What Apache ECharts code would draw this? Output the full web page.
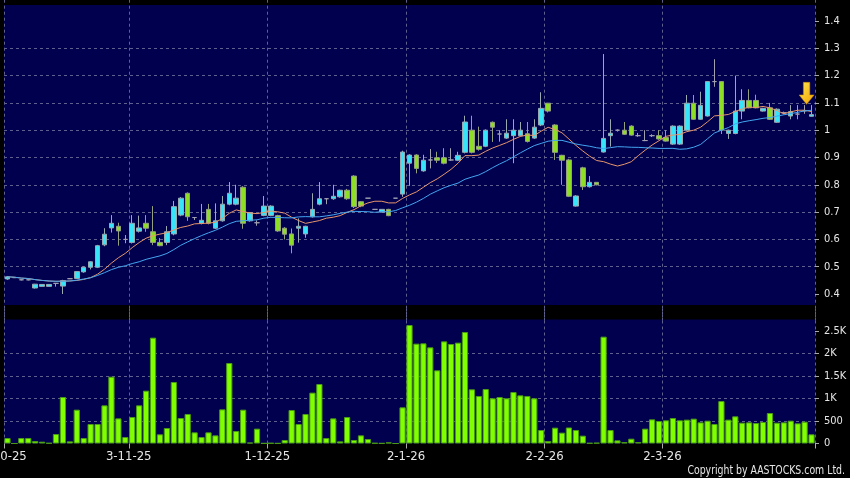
<!DOCTYPE html>
<html><head><meta charset="utf-8">
<script src="https://cdn.jsdelivr.net/npm/echarts@6/dist/echarts.min.js"></script>
<style>html,body{margin:0;padding:0;background:#000;}#c{width:850px;height:478px;}</style>
</head><body><div id="c"></div>
<script>
// ---- data ----
const categories = [
 '2-10-25','3-10-25','6-10-25','8-10-25','9-10-25','10-10-25','13-10-25','14-10-25','15-10-25','16-10-25','17-10-25','20-10-25','21-10-25','22-10-25','23-10-25','24-10-25','27-10-25','28-10-25',
 '3-11-25','4-11-25','5-11-25','6-11-25','7-11-25','10-11-25','11-11-25','12-11-25','13-11-25','14-11-25','17-11-25','18-11-25','19-11-25','20-11-25','21-11-25','24-11-25','25-11-25','26-11-25','27-11-25','28-11-25',
 '1-12-25','2-12-25','3-12-25','4-12-25','5-12-25','8-12-25','9-12-25','10-12-25','11-12-25','12-12-25','15-12-25','16-12-25','17-12-25','18-12-25','19-12-25','22-12-25','23-12-25','24-12-25','29-12-25','30-12-25',
 '2-1-26','5-1-26','6-1-26','7-1-26','8-1-26','9-1-26','12-1-26','13-1-26','14-1-26','15-1-26','16-1-26','19-1-26','20-1-26','21-1-26','22-1-26','23-1-26','26-1-26','27-1-26','28-1-26','29-1-26',
 '2-2-26','3-2-26','4-2-26','5-2-26','6-2-26','9-2-26','10-2-26','11-2-26','12-2-26','13-2-26','16-2-26','20-2-26','23-2-26','24-2-26','25-2-26','26-2-26','27-2-26',
 '2-3-26','3-3-26','4-3-26','5-3-26','6-3-26','9-3-26','10-3-26','11-3-26','12-3-26','13-3-26','16-3-26','17-3-26','18-3-26','19-3-26','20-3-26','23-3-26','24-3-26','25-3-26','26-3-26','27-3-26','30-3-26','31-3-26'
];
const opens = [
 .455,.46,.452,.452,.422,.428,.428,.439,.429,.456,
 .457,.481,.498,.498,.58,.642,.648,.60,.589,.630,
 .659,.628,.589,.589,.62,.689,.769,.68,.659,.71,
 .641,.668,.729,.729,.791,.668,.661,.688,.688,.687,
 .641,.62,.641,.62,.683,.729,.749,.749,.756,.78,
 .832,.738,.751,.71,.70,.71,.751,.766,.879,.909,
 .851,.891,.899,.899,.891,.89,.919,1.0,.941,.941,
 1.029,.986,.971,.98,.98,.987,.971,1.019,1.099,1.019,
 .908,.891,.722,.862,.793,.809,.92,.98,1.0,1.0,
 1.015,.98,.962,.98,.98,.973,.949,.949,1.0,1.099,
 1.04,1.052,1.178,1.178,.988,.988,1.07,1.109,1.109,1.07,
 1.082,1.029,1.064,1.052,1.059,1.071,1.051
];
const closes = [
 .463,.46,.452,.452,.436,.435,.435,.439,.449,.456,
 .482,.498,.518,.577,.619,.659,.631,.60,.659,.642,
 .641,.589,.577,.628,.72,.751,.683,.68,.67,.659,
 .668,.729,.769,.751,.659,.698,.661,.722,.722,.631,
 .619,.579,.648,.648,.71,.749,.749,.758,.78,.749,
 .72,.722,.751,.71,.71,.687,.751,.92,.909,.86,
 .89,.891,.89,.879,.891,.908,1.03,.919,.93,1.0,
 1.011,.986,.989,1.0,1.0,.959,1.011,1.08,1.07,.919,
 .89,.758,.759,.793,.809,.80,.97,.989,1.0,.985,
 .982,.98,.962,.98,.968,.96,1.015,1.015,1.099,1.04,
 1.091,1.178,1.178,1.0,1.0,1.07,1.109,1.082,1.082,1.08,
 1.04,1.077,1.064,1.068,1.059,1.071,1.057
];
const lows = [
 .452,.46,.45,.45,.42,.428,.428,.427,.40,.455,
 .455,.478,.49,.495,.575,.625,.577,.586,.585,.625,
 .628,.579,.575,.579,.615,.685,.668,.671,.655,.655,
 .638,.665,.725,.725,.639,.665,.65,.685,.685,.628,
 .60,.549,.588,.606,.68,.725,.729,.745,.753,.745,
 .715,.718,.751,.71,.70,.685,.751,.756,.796,.842,
 .848,.86,.88,.875,.888,.887,.915,.915,.925,.938,
 .957,.958,.968,.879,.977,.955,.968,1.015,1.065,.891,
 .80,.755,.72,.781,.79,.798,.918,.94,.995,.983,
 .98,.976,.96,.975,.965,.958,.946,.946,.998,1.038,
 1.038,1.05,1.159,.986,.968,.985,1.04,1.08,1.08,1.068,
 1.038,1.027,1.058,1.04,1.04,1.06,1.05
];
const highs = [
 .466,.46,.454,.454,.437,.435,.435,.439,.452,.457,
 .484,.50,.52,.58,.641,.689,.661,.616,.689,.687,
 .689,.722,.605,.649,.741,.755,.772,.682,.73,.73,
 .732,.759,.81,.80,.795,.70,.67,.759,.725,.69,
 .645,.64,.677,.65,.769,.81,.75,.80,.782,.785,
 .835,.74,.751,.71,.71,.712,.751,.925,.912,.912,
 .91,.931,.921,.934,.934,.921,1.053,1.053,1.013,1.003,
 1.032,1.0,1.04,1.04,1.03,1.03,1.04,1.139,1.10,1.022,
 .91,.895,.762,.866,.832,.81,1.279,1.04,1.003,1.03,
 1.018,.99,1.0,.985,1.0,1.0,1.018,1.018,1.129,1.129,
 1.141,1.18,1.26,1.18,1.002,1.2,1.15,1.15,1.13,1.082,
 1.10,1.08,1.068,1.092,1.092,1.092,1.092
];
const volumes = [
 122,0,122,122,55,40,10,211,1033,48,
 752,122,433,433,848,1485,559,144,589,848,
 1174,2352,204,344,1367,567,656,248,144,248,
 181,759,1789,278,752,20,330,5,10,5,
 78,744,433,656,1130,1322,122,559,48,589,
 78,181,100,10,5,25,0,804,2633,2219,
 2226,2137,1626,2270,2211,2241,2478,1204,1056,1211,
 1004,1033,1004,1144,1070,1056,1004,300,55,352,
 241,356,300,174,10,15,2374,300,70,30,
 107,30,330,537,500,515,567,515,530,552,
 470,507,433,944,530,604,463,470,455,478,
 678,463,470,507,448,485,204
];
const priceTicks = [0.4,0.5,0.6,0.7,0.8,0.9,1.0,1.1,1.2,1.3,1.4];
const volumeTicks = [0,500,1000,1500,2000,2500];
const maShort = 10, maLong = 20;
const arrowAt = {index: 115, price: 1.135};

// ---- build ----
const FONT = '"DejaVu Sans Condensed", "DejaVu Sans", sans-serif';
const monthOf = s => s.split('-')[1];
const isMonthStart = i => i === 0 || monthOf(categories[i]) !== monthOf(categories[i - 1]);
const candleData = categories.map((_, i) => [opens[i], closes[i], lows[i], highs[i]]);
function movingAverage(n) {
  return closes.map((_, i) => {
    const s = Math.max(0, i - n + 1);
    let sum = 0;
    for (let k = s; k <= i; k++) sum += closes[k];
    return +(sum / (i - s + 1)).toFixed(4);
  });
}
const gridLine = {color: '#60608f', width: 1, type: [3, 3]};
const labelStyle = {color: '#e6e6e6', fontFamily: FONT};

const chart = echarts.init(document.getElementById('c'));
chart.setOption({
  backgroundColor: '#000',
  animation: false,
  graphic: [
    {type: 'rect', z: -5, silent: true, shape: {x: 4, y: 5, width: 811, height: 300}, style: {fill: '#00004f'}},
    {type: 'rect', z: -5, silent: true, shape: {x: 4, y: 319.5, width: 811, height: 124}, style: {fill: '#00004f'}},
    {type: 'text', x: 845, y: 471, scaleX: 0.78, silent: true,
     style: {text: 'Copyright by AASTOCKS.com Ltd.', fill: '#e6e6e6', font: '12px "DejaVu Sans"', align: 'right', verticalAlign: 'middle'}}
  ],
  grid: [
    {left: 4, right: 35, top: -6.3, bottom: 156.7, containLabel: false, outerBoundsMode: 'none'},
    {left: 4, right: 35, top: 308.5, bottom: 34.5, containLabel: false, outerBoundsMode: 'none'}
  ],
  xAxis: [
    {type: 'category', gridIndex: 0, data: categories, boundaryGap: true,
     axisLine: {show: false}, axisTick: {show: false}, axisLabel: {show: false},
     splitLine: {show: true, interval: isMonthStart, lineStyle: gridLine}},
    {type: 'category', gridIndex: 1, data: categories, boundaryGap: true,
     axisLine: {show: false},
     axisTick: {show: true, interval: isMonthStart, length: 5, lineStyle: {color: '#aaaaaa'}},
     axisLabel: Object.assign({show: true, interval: isMonthStart, fontSize: 13, margin: 7, hideOverlap: false, padding: [0, 7, 0, 0]}, labelStyle),
     splitLine: {show: true, interval: isMonthStart, lineStyle: gridLine}}
  ],
  yAxis: [
    {type: 'value', gridIndex: 0, position: 'right', min: 0.3, max: 1.5, interval: 0.1,
     axisLine: {show: false},
     axisTick: {show: true, length: 4, customValues: priceTicks, lineStyle: {color: '#aaaaaa'}},
     axisLabel: Object.assign({fontSize: 11, margin: 9, customValues: priceTicks,
       formatter: v => String(+(+v).toFixed(1))}, labelStyle),
     splitLine: {show: true, showMinLine: false, showMaxLine: false, lineStyle: gridLine}},
    {type: 'value', gridIndex: 1, position: 'right', min: 0, max: 3000, interval: 500,
     axisLine: {show: false},
     axisTick: {show: true, length: 4, customValues: volumeTicks, lineStyle: {color: '#aaaaaa'}},
     axisLabel: Object.assign({fontSize: 11, margin: 9, customValues: volumeTicks,
       formatter: v => v >= 1000 ? (v / 1000) + 'K' : String(v)}, labelStyle),
     splitLine: {show: true, showMinLine: false, showMaxLine: false, lineStyle: gridLine}}
  ],
  series: [
    {type: 'candlestick', xAxisIndex: 0, yAxisIndex: 0, data: candleData, barWidth: 5,
     itemStyle: {color: '#38e4f8', color0: '#8ede26', borderColor: '#9aa8b0', borderColor0: '#94a080', borderColorDoji: '#a0a0b0', borderWidth: 1},
     markPoint: {
       symbol: 'path://M4,0 L10,0 L10,12 L14,12 L7,21 L0,12 L4,12 Z',
       symbolSize: [15, 22], symbolOffset: [2, 0], label: {show: false}, silent: true,
       itemStyle: {color: new echarts.graphic.LinearGradient(0, 0, 1, 1, [{offset: 0, color: '#ffe84f'}, {offset: 1, color: '#f2a000'}]), borderColor: '#c88400', borderWidth: 0.5},
       data: [{coord: [arrowAt.index, arrowAt.price]}]
     }},
    {type: 'line', xAxisIndex: 0, yAxisIndex: 0, data: movingAverage(maShort), showSymbol: false, symbol: 'none',
     lineStyle: {color: '#e8966a', width: 1}, z: 3},
    {type: 'line', xAxisIndex: 0, yAxisIndex: 0, data: movingAverage(maLong), showSymbol: false, symbol: 'none',
     lineStyle: {color: '#44a6f0', width: 1}, z: 3},
    {type: 'bar', xAxisIndex: 1, yAxisIndex: 1, data: volumes, barCategoryGap: '10%',
     itemStyle: {color: '#80ff00', borderColor: '#4a9a14', borderWidth: 1}}
  ]
});
</script></body></html>
